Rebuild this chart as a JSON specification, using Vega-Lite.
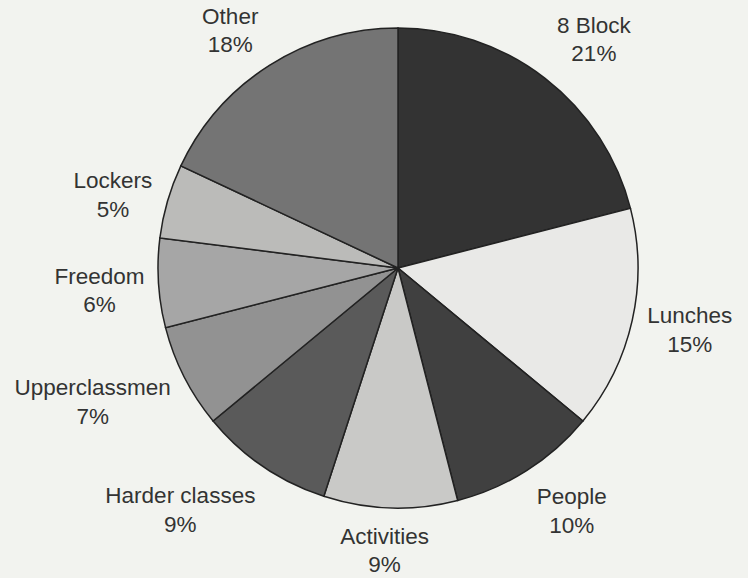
{
  "$schema": "https://vega.github.io/schema/vega-lite/v6.json",
  "width": 696,
  "height": 536,
  "autosize": "none",
  "padding": {"left": 50, "top": 0, "right": 2, "bottom": 42},
  "background": "#f2f3ef",
  "view": {"stroke": null},
  "data": {
    "values": [
      {"rank": 1, "cat": "8 Block", "pct": 21, "label": "8 Block\n21%"},
      {"rank": 2, "cat": "Lunches", "pct": 15, "label": "Lunches\n15%"},
      {"rank": 3, "cat": "People", "pct": 10, "label": "People\n10%"},
      {"rank": 4, "cat": "Activities", "pct": 9, "label": "Activities\n9%"},
      {"rank": 5, "cat": "Harder classes", "pct": 9, "label": "Harder classes\n9%"},
      {"rank": 6, "cat": "Upperclassmen", "pct": 7, "label": "Upperclassmen\n7%"},
      {"rank": 7, "cat": "Freedom", "pct": 6, "label": "Freedom\n6%"},
      {"rank": 8, "cat": "Lockers", "pct": 5, "label": "Lockers\n5%"},
      {"rank": 9, "cat": "Other", "pct": 18, "label": "Other\n18%"}
    ]
  },
  "encoding": {
    "theta": {"field": "pct", "type": "quantitative", "stack": true},
    "order": {"field": "rank", "type": "quantitative"}
  },
  "layer": [
    {
      "mark": {"type": "arc", "outerRadius": 240, "stroke": "#222222", "strokeWidth": 1.5},
      "encoding": {
        "color": {
          "field": "cat",
          "type": "nominal",
          "legend": null,
          "scale": {
            "domain": ["8 Block", "Lunches", "People", "Activities", "Harder classes", "Upperclassmen", "Freedom", "Lockers", "Other"],
            "range": ["#333333", "#e9e9e7", "#404040", "#c9c9c7", "#5a5a5a", "#929292", "#a6a6a6", "#bbbbb9", "#747474"]
          }
        }
      }
    },
    {
      "mark": {
        "type": "text",
        "radius": 300,
        "font": "Liberation Sans",
        "fontSize": 22.5,
        "lineHeight": 28.5,
        "lineBreak": "\n",
        "color": "#333333",
        "align": "center",
        "baseline": "middle",
        "dx": {"expr": "[12,-1,13,-4,-49,-38,1,3,-7][datum.rank-1]"},
        "dy": {"expr": "[-5,-17,-24,-31,-20,-16,-10,-3,2][datum.rank-1]"}
      },
      "encoding": {"text": {"field": "label", "type": "nominal"}}
    }
  ]
}
